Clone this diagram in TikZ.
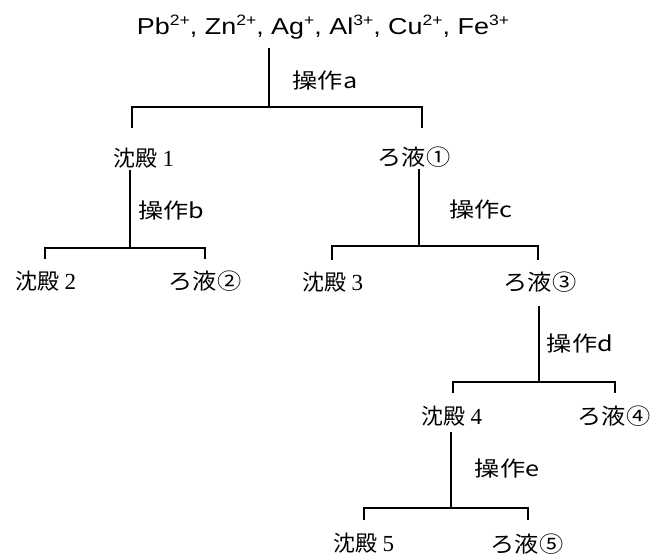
\documentclass[tikz,border=0pt]{standalone}
\usepackage{fontspec}
\setmainfont{Liberation Sans}
\newfontfamily\cjk{Noto Sans CJK JP}
\newfontfamily\serifdig{Liberation Serif}
\newcommand{\ionsup}[1]{\raisebox{0.42em}{\fontsize{15}{16}\selectfont #1}}
\newcommand{\numsp}[1]{\hspace{0.22em}{\serifdig\fontsize{23}{24}\selectfont #1}}
\begin{document}
\begin{tikzpicture}[x=1pt,y=-1pt,
  lbl/.style={inner sep=0pt,font=\cjk\fontsize{22}{24}\selectfont},
  flt/.style={lbl,xscale=1.1},
  ion/.style={inner sep=0pt,font=\fontsize{23}{26}\selectfont},
  op/.style={inner sep=0pt,xscale=1.2,font=\cjk\fontsize{21}{24}\selectfont},
  ln/.style={line width=1.3pt}]
\useasboundingbox (0,0) rectangle (653,556);
\fill[white] (0,0) rectangle (653,556);
% top
\node[ion,anchor=base,xscale=1.17] (top) at (323,35) {Pb\ionsup{2+}, Zn\ionsup{2+}, Ag\ionsup{+}, Al\ionsup{3+}, Cu\ionsup{2+}, Fe\ionsup{3+}};
\node[op] (opa) at (325,81) {操作a};
\coordinate (a0) at (269,48);
\coordinate (am) at (269,107);
\coordinate (aL) at (132,107);
\coordinate (aR) at (422,107);
\coordinate (aLt) at (132,128);
\coordinate (aRt) at (422,128);
\draw[ln] (a0) -- (am);
\draw[ln] (aLt) -- (aL) -- (aR) -- (aRt);
% level 1
\node[lbl] (s1) at (144,158) {沈殿\numsp{1}};
\node[flt] (f1) at (414,157) {ろ液①};
% b
\node[op] (opb) at (171,211) {操作b};
\coordinate (b0) at (130,170);
\coordinate (bm) at (130,248);
\coordinate (bL) at (45,248);
\coordinate (bR) at (205,248);
\coordinate (bLt) at (45,259);
\coordinate (bRt) at (205,259);
\draw[ln] (b0) -- (bm);
\draw[ln] (bLt) -- (bL) -- (bR) -- (bRt);
\node[lbl] (s2) at (46,281) {沈殿\numsp{2}};
\node[flt] (f2) at (205,281) {ろ液②};
% c
\node[op] (opc) at (481,210) {操作c};
\coordinate (c0) at (419,169);
\coordinate (cm) at (419,246);
\coordinate (cL) at (332,246);
\coordinate (cR) at (538,246);
\coordinate (cLt) at (332,260);
\coordinate (cRt) at (538,260);
\draw[ln] (c0) -- (cm);
\draw[ln] (cLt) -- (cL) -- (cR) -- (cRt);
\node[lbl] (s3) at (333,282) {沈殿\numsp{3}};
\node[flt] (f3) at (540,282) {ろ液③};
% d
\node[op] (opd) at (580,344) {操作d};
\coordinate (d0) at (539,306);
\coordinate (dm) at (539,382);
\coordinate (dL) at (453,382);
\coordinate (dR) at (615,382);
\coordinate (dLt) at (453,393);
\coordinate (dRt) at (615,393);
\draw[ln] (d0) -- (dm);
\draw[ln] (dLt) -- (dL) -- (dR) -- (dRt);
\node[lbl] (s4) at (452,416) {沈殿\numsp{4}};
\node[flt] (f4) at (614,416) {ろ液④};
% e
\node[op] (ope) at (507,469) {操作e};
\coordinate (e0) at (451,432);
\coordinate (em) at (451,508);
\coordinate (eL) at (364,508);
\coordinate (eR) at (528,508);
\coordinate (eLt) at (364,520);
\coordinate (eRt) at (528,520);
\draw[ln] (e0) -- (em);
\draw[ln] (eLt) -- (eL) -- (eR) -- (eRt);
\node[lbl] (s5) at (364,543) {沈殿\numsp{5}};
\node[flt] (f5) at (527,544) {ろ液⑤};
\end{tikzpicture}
\end{document}
